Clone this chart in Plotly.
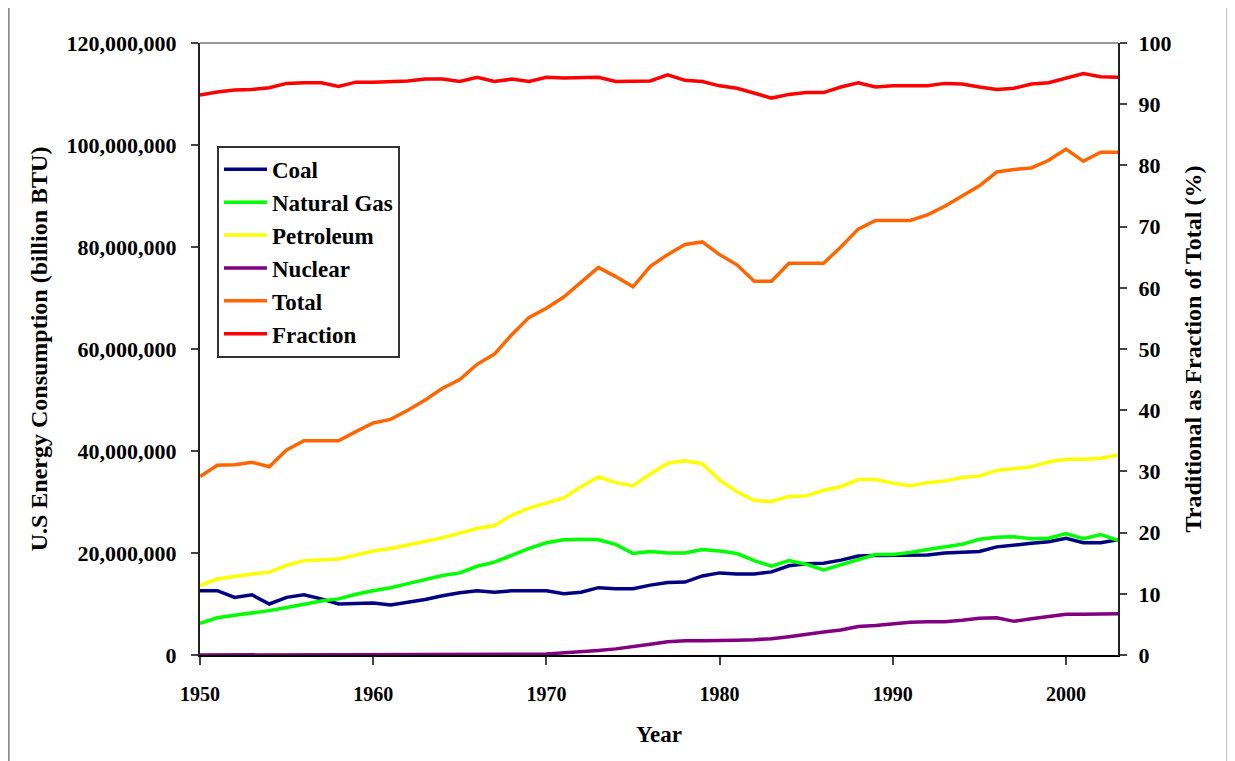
import plotly.graph_objects as go

years = list(range(1950, 2004))

coal = [12.6, 12.6, 11.3, 11.8, 10.0, 11.3, 11.8, 11.0, 10.0, 10.1,
        10.2, 9.8, 10.3, 10.9, 11.6, 12.2, 12.6, 12.3, 12.6, 12.6,
        12.6, 12.0, 12.3, 13.2, 13.0, 13.0, 13.7, 14.2, 14.3, 15.5,
        16.1, 15.9, 15.9, 16.3, 17.5, 17.9, 18.0, 18.6, 19.4, 19.5,
        19.5, 19.5, 19.6, 20.0, 20.2, 20.3, 21.2, 21.6, 21.9, 22.2,
        22.9, 22.0, 22.0, 22.6]
natural_gas = [6.2, 7.3, 7.8, 8.2, 8.7, 9.3, 10.0, 10.6, 11.0, 11.9,
               12.6, 13.2, 14.0, 14.8, 15.6, 16.1, 17.4, 18.2, 19.5, 20.9,
               22.0, 22.6, 22.7, 22.6, 21.7, 19.9, 20.3, 20.0, 20.0, 20.7,
               20.4, 19.9, 18.5, 17.4, 18.5, 17.8, 16.7, 17.7, 18.6, 19.7,
               19.7, 20.1, 20.7, 21.2, 21.7, 22.7, 23.1, 23.2, 22.8, 22.9,
               23.8, 22.8, 23.6, 22.5]
petroleum = [13.6, 14.9, 15.4, 15.9, 16.2, 17.6, 18.5, 18.6, 18.8, 19.6,
             20.4, 20.9, 21.6, 22.3, 23.0, 23.9, 24.8, 25.4, 27.4, 28.8,
             29.8, 30.8, 33.0, 34.9, 33.8, 33.2, 35.5, 37.6, 38.1, 37.5,
             34.3, 32.0, 30.3, 30.1, 31.1, 31.2, 32.3, 33.0, 34.4, 34.4,
             33.7, 33.2, 33.8, 34.1, 34.8, 35.1, 36.2, 36.6, 36.9, 37.9,
             38.4, 38.4, 38.6, 39.2]
nuclear = [0.0, 0.0, 0.0, 0.0, 0.0, 0.0, 0.0, 0.0, 0.0, 0.0,
           0.0, 0.0, 0.0, 0.0, 0.0, 0.0, 0.0, 0.05, 0.1, 0.15,
           0.2, 0.4, 0.6, 0.9, 1.2, 1.6, 2.1, 2.6, 2.8, 2.8,
           2.8, 2.9, 3.0, 3.2, 3.6, 4.1, 4.5, 4.9, 5.6, 5.8,
           6.1, 6.4, 6.5, 6.5, 6.8, 7.2, 7.3, 6.6, 7.1, 7.6,
           8.0, 8.0, 8.1, 8.1]
total = [35.0, 37.2, 37.3, 37.8, 36.9, 40.2, 42.0, 42.0, 42.0, 43.8,
         45.5, 46.2, 48.0, 50.0, 52.3, 54.0, 57.0, 59.0, 62.8, 66.2,
         68.0, 70.2, 73.2, 76.0, 74.2, 72.2, 76.2, 78.5, 80.5, 81.0,
         78.5, 76.5, 73.3, 73.3, 76.8, 76.8, 76.8, 80.0, 83.5, 85.2,
         85.2, 85.2, 86.3, 88.0, 90.0, 92.0, 94.7, 95.2, 95.5, 97.0,
         99.2, 96.8, 98.6, 98.6]
fraction = [91.5, 92.0, 92.3, 92.4, 92.7, 93.4, 93.5, 93.5, 92.9, 93.6,
            93.6, 93.7, 93.8, 94.1, 94.1, 93.7, 94.4, 93.7, 94.1, 93.7,
            94.4, 94.3, 94.3, 94.4, 93.7, 93.7, 93.8, 94.8, 93.9, 93.7,
            93.0, 92.6, 91.8, 91.0, 91.6, 91.9, 91.9, 92.8, 93.5, 92.8,
            93.0, 93.0, 93.0, 93.4, 93.3, 92.8, 92.4, 92.6, 93.3, 93.5,
            94.2, 95.0, 94.5, 94.4]

MILLION = 1_000_000
series = [
    ("Coal", coal, "#000080", "y"),
    ("Natural Gas", natural_gas, "#00FF00", "y"),
    ("Petroleum", petroleum, "#FFFF00", "y"),
    ("Nuclear", nuclear, "#800080", "y"),
    ("Total", total, "#FF6600", "y"),
]

FONT = '"Liberation Serif", "Times New Roman", Times, serif'

fig = go.Figure()
for name, vals, color, ax in series:
    fig.add_trace(go.Scatter(
        x=years, y=[v * MILLION for v in vals], name=name, mode="lines",
        line=dict(color=color, width=3.5), yaxis=ax, legendgroup=name))
fig.add_trace(go.Scatter(
    x=years, y=fraction, name="Fraction", mode="lines",
    line=dict(color="#FF0000", width=3.5), yaxis="y2", legendgroup="Fraction"))


def f(size):
    return dict(family=FONT, size=size, color="black", weight="bold")


fig.update_layout(
    width=1227, height=753,
    margin=dict(l=192, r=117, t=35, b=106),
    paper_bgcolor="white", plot_bgcolor="white",
    showlegend=True,
    legend=dict(x=0.0185, y=0.832, xanchor="left", yanchor="top",
                bgcolor="white", bordercolor="#333333", borderwidth=2,
                font=f(23), tracegroupgap=4, traceorder="normal", itemwidth=43),
    xaxis=dict(range=[1950, 2003], tickvals=[1950, 1960, 1970, 1980, 1990, 2000],
               showgrid=False, zeroline=False, showline=True, linecolor="black",
               linewidth=2, ticks="outside", ticklen=8, tickwidth=2, tickcolor="#444",
               tickfont=f(20), ticklabelstandoff=12,
               title=dict(text="Year", font=f(23), standoff=22)),
    yaxis=dict(range=[0, 120 * MILLION], dtick=20 * MILLION, tickformat=",d",
               showgrid=False, zeroline=False, showline=True, linecolor="#222",
               linewidth=2, ticks="outside", ticklen=7, tickwidth=2, tickcolor="#444",
               tickfont=f(22), ticklabelstandoff=10,
               title=dict(text="U.S Energy Consumption (billion BTU)", font=f(24),
                          standoff=12)),
    yaxis2=dict(range=[0, 100], dtick=10, overlaying="y", side="right",
                showgrid=False, zeroline=False, showline=True, linecolor="#222",
                linewidth=2, ticks="outside", ticklen=7, tickwidth=2, tickcolor="#444",
                tickfont=f(22), ticklabelstandoff=7,
                title=dict(text="Traditional as Fraction of Total (%)", font=f(24),
                           standoff=14)),
    shapes=[
        dict(type="line", xref="paper", yref="paper", x0=0, x1=1, y0=1.0, y1=1.0,
             line=dict(color="#999999", width=2)),
        dict(type="rect", xref="paper", yref="paper", x0=-0.209, x1=1.1198,
             y0=-0.25, y1=1.0605, line=dict(color="#888888", width=3)),
    ],
)

fig.write_html("out.html")
